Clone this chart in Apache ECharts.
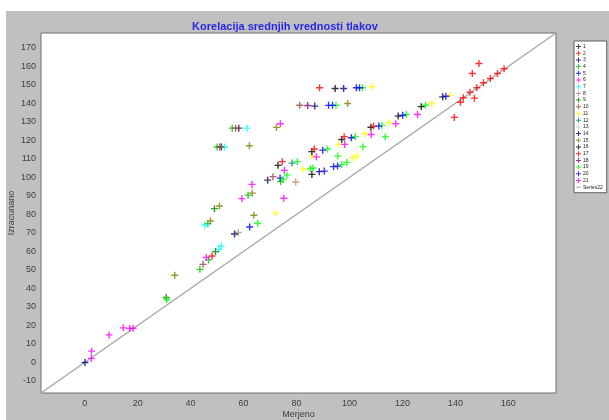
<!DOCTYPE html>
<html>
<head>
<meta charset="utf-8">
<script src="https://cdn.jsdelivr.net/npm/echarts@6/dist/echarts.min.js"></script>
<style>
html,body{margin:0;padding:0;background:#fff;}
#chart{width:609px;height:420px;}
</style>
</head>
<body>
<div id="chart"></div>
<script>
// Measured (Merjeno) vs computed (Izracunano) mean pressures, one series per group
const seriesNames = ['1','2','3','4','5','6','7','8','9','10','11','12','13','14','15','16','17','18','19','20','21'];
const seriesColors = ['#101040','#ff0000','#000080','#00c000','#0000ff','#ff00ff','#00ffff','#c09070','#008000','#a04040','#ffff00','#008080','#d0d0d0','#000080','#808000','#000000','#ff0000','#800080','#00ff00','#0000ff','#ff00ff'];

const s1 = [[58.2,126.6],[51.6,116.4],[69.1,98.5]];
const s2 = [[139.6,132.4],[141.9,140.6],[143.0,143.0],[145.5,146.0],[147.2,142.8],[148.1,148.4],[150.6,151.1],[153.2,153.4],[155.9,156.1],[158.4,158.7],[146.4,156.1],[148.9,161.5]];
const s3 = [[0.1,0],[86.9,138.5],[97.8,148.0]];
const s4 = [[55.7,126.6],[50.0,116.4],[74.0,97.8],[61.7,90.4],[46.5,75.0],[43.5,50.3],[46.8,55.4]];
const s5 = [[92.1,138.9],[102.6,148.4],[73.8,99.6],[62.3,73.2],[90.5,103.4]];
const s6 = [[73.9,129.0],[75.4,103.8],[63.2,96.2],[59.4,88.5],[75.2,88.7],[45.9,56.7],[17.0,18.4],[18.3,18.5],[14.6,18.7],[9.2,14.9],[2.6,6.1],[2.5,2.2]];
const s7 = [[61.3,126.6],[52.8,116.4],[45.4,74.3],[51.5,62.9],[50.6,61.1]];
const s8 = [[79.7,97.5],[58.0,70.2]];
const s9 = [[30.8,35.1],[49.4,59.9],[49.0,83.1]];
const s10 = [[57.0,126.6],[51.0,116.4],[81.2,139.0],[71.1,100.4],[44.7,53.0]];
const s11 = [[108.4,149.0],[138.0,144.2],[131.1,139.9],[115.1,129.5],[105.7,123.6],[95.9,117.8],[85.8,111.5],[101.2,110.6],[102.8,111.5],[82.5,104.5],[72.1,80.7]];
const s12 = [[78.3,107.7]];
const s13 = [];
const s14 = [[88.6,103.1],[56.6,69.4]];
const s15 = [[72.4,127.0],[62.2,117.1],[63.3,91.5],[50.9,84.5],[63.9,79.5],[47.5,76.4],[34.0,47.1],[99.3,139.9]];
const s16 = [[94.6,148.0],[135.2,143.5],[127.1,138.2],[118.4,133.1],[108.1,127.1],[97.1,120.5],[85.8,113.9],[85.8,101.6],[73.0,106.5]];
const s17 = [[88.7,148.4],[109.1,127.7],[98.0,122.0],[86.7,115.3],[74.6,108.5],[48.1,57.5]];
const s18 = [[84.2,138.8]];
const s19 = [[104.9,148.4],[94.9,139.0],[128.7,139.0],[121.4,134.0],[112.2,128.1],[102.2,122.0],[91.7,115.3],[113.5,122.0],[105.1,116.6],[95.6,111.5],[85.2,104.6],[86.2,105.1],[97.1,106.9],[99.0,108.1],[80.3,108.5],[76.4,101.2],[74.9,98.9],[65.3,75.2],[31.0,34.0]];
const s20 = [[103.8,148.4],[93.6,138.9],[136.4,143.8],[120.1,133.6],[111.1,127.7],[100.7,121.4],[89.9,114.7],[94.0,105.8],[95.5,106.1]];
const s21 = [[125.7,134.0],[117.5,129.0],[108.2,123.2],[98.2,117.8],[87.5,111.1]];
const groups = [s1,s2,s3,s4,s5,s6,s7,s8,s9,s10,s11,s12,s13,s14,s15,s16,s17,s18,s19,s20,s21];

// reference line y = x across the whole axis range
const axisMin = -16.5, axisMax = 178;
const lineName = 'Series22';
const lineData = [[axisMin,axisMin],[axisMax,axisMax]];

const plusPath = 'path://M4,0 L6,0 L6,4 L10,4 L10,6 L6,6 L6,10 L4,10 L4,6 L0,6 L0,4 L4,4 Z';

const chart = echarts.init(document.getElementById('chart'));
const series = groups.map((g, i) => ({
  name: seriesNames[i],
  type: 'scatter',
  data: g,
  symbol: plusPath,
  symbolSize: 7,
  itemStyle: { color: seriesColors[i] },
  emphasis: { disabled: true }
}));
series.push({
  name: lineName,
  type: 'line',
  data: lineData,
  symbol: 'none',
  lineStyle: { color: '#a8a8a8', width: 1.5 },
  itemStyle: { color: '#a8a8a8' },
  z: 1
});

const labelFont = { fontFamily: 'Liberation Sans, Arial, sans-serif', fontSize: 9, color: '#404040' };

chart.setOption({
  animation: false,
  backgroundColor: '#ffffff',
  graphic: [{
    type: 'rect', z: -10, silent: true,
    shape: { x: 6, y: 11, width: 603, height: 409 },
    style: { fill: '#c0c0c0' }
  }],
  title: {
    text: 'Korelacija srednjih vrednosti tlakov',
    left: 280, top: 16, textAlign: 'center',
    textStyle: { fontFamily: 'Liberation Sans, Arial, sans-serif', fontSize: 11, fontWeight: 'bold', color: '#2828e8' }
  },
  legend: {
    orient: 'vertical',
    left: 574, top: 41,
    width: 30,
    backgroundColor: '#ffffff',
    borderColor: '#606060',
    borderWidth: 1,
    padding: [3, 4, 3, 2],
    itemWidth: 5, itemHeight: 5, itemGap: 1.7,
    textStyle: { fontFamily: 'Liberation Sans, Arial, sans-serif', fontSize: 5, color: '#202020', padding: [0,0,0,-3] },
    data: seriesNames.map(n => ({ name: n, icon: plusPath })).concat([{ name: lineName, icon: 'path://M0,4 L10,4 L10,6 L0,6 Z' }])
  },
  grid: {
    left: 41, right: 53, top: 33, bottom: 27,
    outerBoundsMode: 'none',
    show: true, backgroundColor: '#ffffff', borderColor: '#707070', borderWidth: 1
  },
  xAxis: {
    type: 'value', min: axisMin, max: axisMax, splitNumber: 10,
    name: 'Merjeno', nameLocation: 'middle', nameGap: 17, nameMoveOverlap: false,
    nameTextStyle: labelFont,
    axisLine: { show: false }, axisTick: { show: false }, splitLine: { show: false },
    axisLabel: Object.assign({ margin: 6, showMinLabel: false, showMaxLabel: false }, labelFont)
  },
  yAxis: {
    type: 'value', min: axisMin, max: axisMax, splitNumber: 20,
    name: 'Izracunano', nameLocation: 'middle', nameGap: 25, nameRotate: 90, nameMoveOverlap: false,
    nameTextStyle: labelFont,
    axisLine: { show: false }, axisTick: { show: false }, splitLine: { show: false },
    axisLabel: Object.assign({ margin: 5, showMinLabel: false, showMaxLabel: false }, labelFont)
  },
  series: series
});
</script>
</body>
</html>
